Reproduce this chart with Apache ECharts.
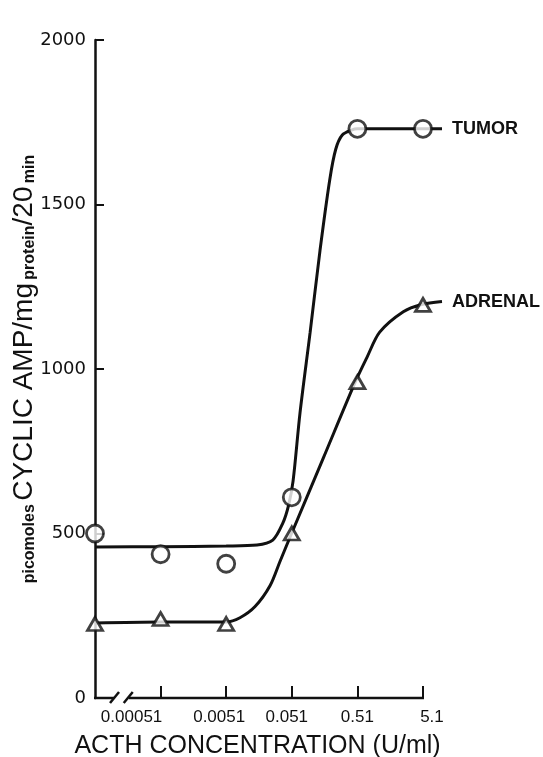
<!DOCTYPE html>
<html>
<head>
<meta charset="utf-8">
<script src="https://cdn.jsdelivr.net/npm/echarts@6/dist/echarts.min.js"></script>
<style>html,body{margin:0;padding:0;background:#fff;}#chart{width:543px;height:757px;}</style>
</head>
<body>
<div id="chart"></div>
<script>
// ---- data ----
const concentrationLabels = ['', '0.00051', '0.0051', '0.051', '0.51', '5.1'];
const markerX = [0, 1, 2, 3, 4, 5];
const tumorValues = [500, 437, 408, 610, 1730, 1730];
const adrenalValues = [225, 240, 225, 500, 960, 1195];
// fitted curves
const tumorCurveX = [0, 1, 2, 2.47, 2.71, 2.86, 2.95, 3.02, 3.125, 3.28, 3.43, 3.58, 3.67, 3.77, 3.92, 4, 5, 5.29];
const tumorCurveY = [459, 460, 462, 465, 480, 530, 585, 660, 866, 1112, 1360, 1577, 1668, 1711, 1727, 1730, 1730, 1730];
const adrenalCurveX = [0, 0.99, 2, 2.21, 2.44, 2.67, 2.82, 2.99, 3.48, 3.96, 4.15, 4.34, 4.70, 4.98, 5.29];
const adrenalCurveY = [228, 231, 231, 244, 278, 342, 415, 497, 729, 957, 1037, 1112, 1174, 1196, 1205];
const yTicks = [0, 500, 1000, 1500, 2000];
const xTickPositions = [1, 2, 3, 4, 5];
const axisBreak = [0.29, 0.56];
const xAxisEnd = 5;

const ink = '#111';
const labelShift = {1: [0, 58, 0, 0], 2: [0, 14, 0, 0], 3: [0, 10, 0, 0], 4: [0, 0, 0, 0], 5: [0, 0, 0, 18]};

const chart = echarts.init(document.getElementById('chart'), null, {renderer: 'canvas'});
const zip = (xs, ys) => xs.map((x, i) => [x, ys[i]]);

const rich = {};
Object.keys(labelShift).forEach(k => {
  rich['l' + k] = {fontFamily: 'Liberation Sans', fontSize: 17, color: ink, padding: labelShift[k]};
});

chart.setOption({
  animation: false,
  backgroundColor: '#fff',
  grid: {left: 95, right: 101, top: 40, bottom: 59, outerBoundsMode: 'none', containLabel: false},
  xAxis: {
    type: 'value', min: 0, max: 5.29,
    axisLine: {show: false},
    axisTick: {show: true, inside: true, length: 12, lineStyle: {color: ink, width: 2}, customValues: xTickPositions},
    splitLine: {show: false},
    axisLabel: {
      margin: 11,
      customValues: xTickPositions,
      formatter: v => concentrationLabels[v] ? '{l' + v + '|' + concentrationLabels[v] + '}' : '',
      rich: rich
    },
    name: 'ACTH CONCENTRATION (U/ml)',
    nameLocation: 'middle', nameGap: 36, nameMoveOverlap: false,
    nameTextStyle: {fontFamily: 'Liberation Sans', fontSize: 25, color: ink, padding: [0, 22, 0, 0]}
  },
  yAxis: {
    type: 'value', min: yTicks[0], max: yTicks[yTicks.length - 1], interval: 500,
    axisLine: {show: true, lineStyle: {color: ink, width: 2.5}},
    axisTick: {show: true, inside: true, length: 9, lineStyle: {color: ink, width: 2}},
    splitLine: {show: false},
    axisLabel: {margin: 9, fontFamily: 'DejaVu Sans', fontSize: 18, color: ink, formatter: v => String(v)},
    name: '{s|picomoles} {b|CYCLIC AMP/mg} {s|protein}{b|/20} {s|min}',
    nameLocation: 'middle', nameRotate: 90, nameGap: 57, nameMoveOverlap: false,
    nameTextStyle: {
      color: ink,
      rich: {
        s: {fontFamily: 'Liberation Sans', fontWeight: 'bold', fontSize: 16, color: ink, verticalAlign: 'bottom'},
        b: {fontFamily: 'Liberation Sans', fontSize: 28, color: ink, verticalAlign: 'bottom'}
      }
    }
  },
  series: [
    {
      name: 'TUMOR', type: 'line', data: zip(tumorCurveX, tumorCurveY),
      smooth: 0.3, showSymbol: false, symbol: 'none',
      lineStyle: {color: ink, width: 3}, z: 3,
      endLabel: {show: true, formatter: '{a}', distance: 10, fontFamily: 'Liberation Sans', fontWeight: 'bold', fontSize: 18, color: ink}
    },
    {
      name: 'ADRENAL', type: 'line', data: zip(adrenalCurveX, adrenalCurveY),
      smooth: 0.3, showSymbol: false, symbol: 'none',
      lineStyle: {color: ink, width: 3}, z: 3,
      endLabel: {show: true, formatter: '{a}', distance: 10, fontFamily: 'Liberation Sans', fontWeight: 'bold', fontSize: 18, color: ink}
    },
    {
      name: 'tumor points', type: 'scatter', data: zip(markerX, tumorValues),
      symbol: 'circle', symbolSize: 17, clip: false, z: 5,
      itemStyle: {color: '#fff', borderColor: ink, borderWidth: 2.8}
    },
    {
      name: 'adrenal points', type: 'scatter', data: zip(markerX, adrenalValues),
      symbol: 'triangle', symbolSize: [15, 13], clip: false, z: 5,
      itemStyle: {color: '#fff', borderColor: ink, borderWidth: 2.8}
    },
    {
      // x-axis baseline (ends at the last concentration) with the "//" break
      name: 'x axis line', type: 'custom', clip: false, z: 1, silent: true,
      data: [[axisBreak[0], axisBreak[1], xAxisEnd]],
      renderItem: (params, api) => {
        const o = api.coord([0, 0]);
        const a = api.coord([api.value(0), 0]);
        const b = api.coord([api.value(1), 0]);
        const e = api.coord([api.value(2), 0]);
        const st = {stroke: ink, lineWidth: 2.5};
        return {
          type: 'group',
          children: [
            {type: 'line', shape: {x1: o[0] - 1, y1: o[1], x2: a[0], y2: o[1]}, style: st},
            {type: 'line', shape: {x1: b[0] - 3, y1: o[1], x2: e[0] + 1, y2: o[1]}, style: st},
            {type: 'line', shape: {x1: a[0] - 4, y1: o[1] + 5, x2: a[0] + 5, y2: o[1] - 6}, style: st},
            {type: 'line', shape: {x1: b[0] - 8, y1: o[1] + 5, x2: b[0] + 1, y2: o[1] - 6}, style: st}
          ]
        };
      }
    }
  ]
});
</script>
</body>
</html>
